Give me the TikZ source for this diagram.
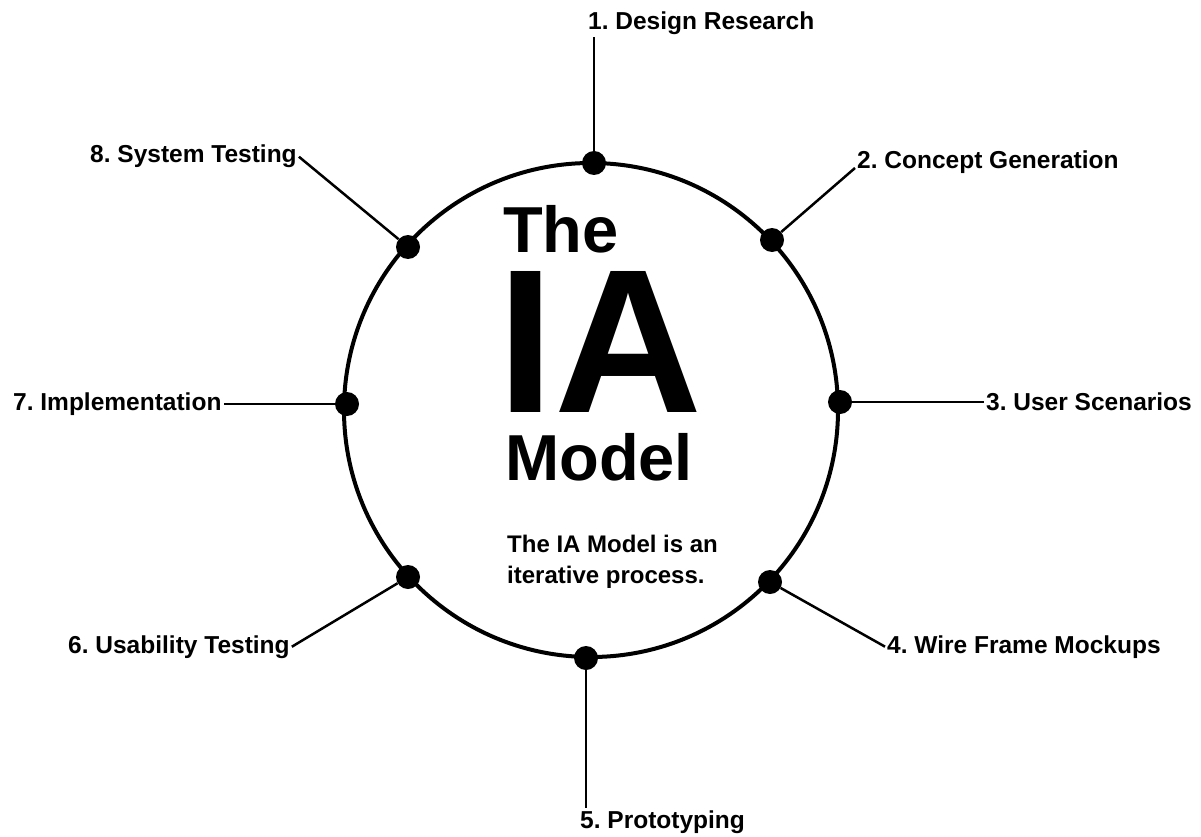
\documentclass[tikz,border=0pt]{standalone}
\usepackage{fontspec}
\setmainfont{Liberation Sans}
\frenchspacing
\begin{document}
\begin{tikzpicture}[x=1pt,y=-1pt,
  dot/.style={circle,fill=black,inner sep=0pt,minimum size=24pt},
  lbl/.style={font=\fontsize{24.5}{28}\selectfont\bfseries,inner sep=2pt,anchor=base west},
  conn/.style={line width=2.5pt},
  ring/.style={line width=4pt},
  big/.style={inner sep=0pt,anchor=base west,text depth=0pt}]
\useasboundingbox[fill=white] (0,0) rectangle (1201,837);
\draw[ring] (591,410) circle[radius=247];
% dots
\node[dot] (d1) at (594,163) {};
\node[dot] (d2) at (772,240) {};
\node[dot] (d3) at (840,402) {};
\node[dot] (d4) at (770,582) {};
\node[dot] (d5) at (586,658) {};
\node[dot] (d6) at (408,577) {};
\node[dot] (d7) at (347,404) {};
\node[dot] (d8) at (408,247) {};
% labels
\node[lbl] (l1) at (586,30) {1. Design Research};
\node[lbl] (l2) at (855,168) {2. Concept Generation};
\node[lbl] (l3) at (984,410) {3. User Scenarios};
\node[lbl] (l4) at (885,653) {4. Wire Frame Mockups};
\node[lbl] (l5) at (578,828) {5. Prototyping};
\node[lbl] (l6) at (66,653) {6. Usability Testing};
\node[lbl] (l7) at (11,410) {7. Implementation};
\node[lbl] (l8) at (88,163) {8. System Testing};
% connectors
\draw[conn] (d1) -- (d1 |- l1.south);
\draw[conn] (d2) -- (l2.base west);
\draw[conn] (d3) -- (d3 -| l3.west);
\draw[conn] (d4) -- (l4.west);
\draw[conn] (d5) -- (d5 |- l5.north);
\draw[conn] (d6) -- (l6.east);
\draw[conn] (d7) -- (d7 -| l7.east);
\draw[conn] (d8) -- (l8.east);
% title
\node[big,font=\fontsize{65}{70}\selectfont\bfseries,text height=47pt] (tthe) at (503,252) {The};
\node[big,font=\fontsize{205}{210}\selectfont\bfseries,text height=147pt] (tia) at (497,412) {IA};
\node[big,font=\fontsize{65}{70}\selectfont\bfseries,text height=47pt] (tmodel) at (505,480) {Model};
\node[font=\fontsize{24}{31}\selectfont\bfseries,inner sep=0pt,anchor=north west,align=left] (desc) at (507,535) {The IA Model is an\\iterative process.};
\end{tikzpicture}
\end{document}
